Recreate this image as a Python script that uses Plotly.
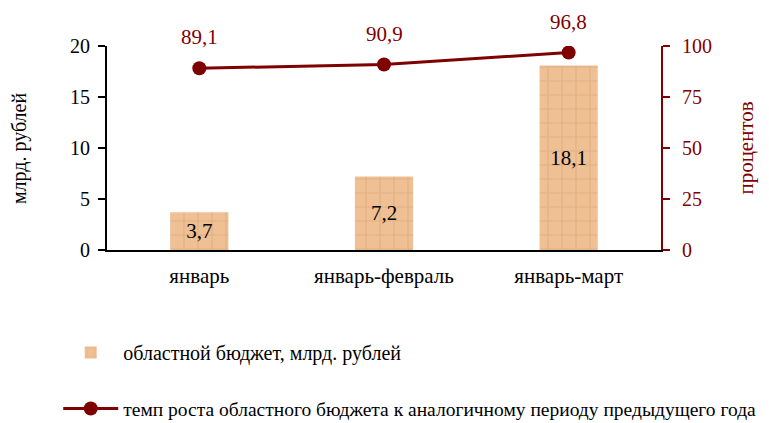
import plotly.graph_objects as go

categories = ["январь", "январь-февраль", "январь-март"]
budget = [3.7, 7.2, 18.1]
growth = [89.1, 90.9, 96.8]
left_ticks = [0, 5, 10, 15, 20]
right_ticks = [0, 25, 50, 75, 100]

DARK_RED = "#7F0000"
FONT = "Liberation Serif, Times New Roman, serif"

fig = go.Figure()
fig.add_trace(go.Bar(
    x=categories, y=budget, name="областной бюджет, млрд. рублей",
    marker=dict(color="#EFC093", line=dict(width=0),
                pattern=dict(shape="+", fgcolor="#D49F70", size=14, solidity=0.15)),
    width=0.315,
    texttemplate="%{y:.1f}", textposition="inside", insidetextanchor="middle",
    textfont=dict(size=21, color="black", family=FONT),
    legendgroup="a",
))
fig.add_trace(go.Scatter(
    x=categories, y=growth, yaxis="y2", mode="lines+markers",
    name="<span style='font-size:19.5px'>темп роста областного бюджета к аналогичному периоду предыдущего года</span>",
    line=dict(color=DARK_RED, width=3), marker=dict(size=14, color=DARK_RED),
    legendgroup="b",
))
for c, g in zip(categories, growth):
    fig.add_annotation(x=c, y=g, yref="y2", text=f"{g:.1f}".replace(".", ","),
                       showarrow=False, yshift=31,
                       font=dict(size=21, color=DARK_RED, family=FONT))

fig.add_annotation(text="млрд. рублей", xref="paper", yref="paper", x=-0.183, y=0.5,
                   textangle=-90, showarrow=False, font=dict(size=20, color="black", family=FONT))
fig.add_annotation(text="процентов", xref="paper", yref="paper", x=1.178, y=0.5,
                   textangle=-90, showarrow=False, font=dict(size=21, color=DARK_RED, family=FONT))

fig.update_layout(
    width=761, height=415,
    margin=dict(l=99, r=108, t=38, b=173, autoexpand=False),
    paper_bgcolor="white", plot_bgcolor="white",
    separators=", ",
    font=dict(family=FONT, color="black", size=16),
    showlegend=True,
    legend=dict(x=0.066, y=0.217, xref="container", yref="container",
                xanchor="left", yanchor="top",
                font=dict(size=20, family=FONT), tracegroupgap=27,
                itemwidth=55, bgcolor="rgba(0,0,0,0)"),
    xaxis=dict(range=[-0.5, 2.5], showline=True, linecolor="black", linewidth=2,
               ticks="", tickfont=dict(size=21), showgrid=False, automargin=False,
               ticklabelstandoff=6),
    yaxis=dict(range=[0, 20], tickvals=left_ticks, showline=True, linecolor="black",
               linewidth=2, ticks="outside", ticklen=7, tickwidth=2, tickcolor="black",
               tickfont=dict(size=20), showgrid=False, zeroline=False, automargin=False,
               ticklabelstandoff=4),
    yaxis2=dict(range=[0, 100], tickvals=right_ticks, overlaying="y", side="right",
                showline=True, linecolor=DARK_RED, linewidth=2, ticks="outside",
                ticklen=7, tickwidth=2, tickcolor=DARK_RED, automargin=False,
                ticklabelstandoff=8,
                tickfont=dict(size=20, color=DARK_RED), showgrid=False, zeroline=False),
)
fig.write_html("out.html")
